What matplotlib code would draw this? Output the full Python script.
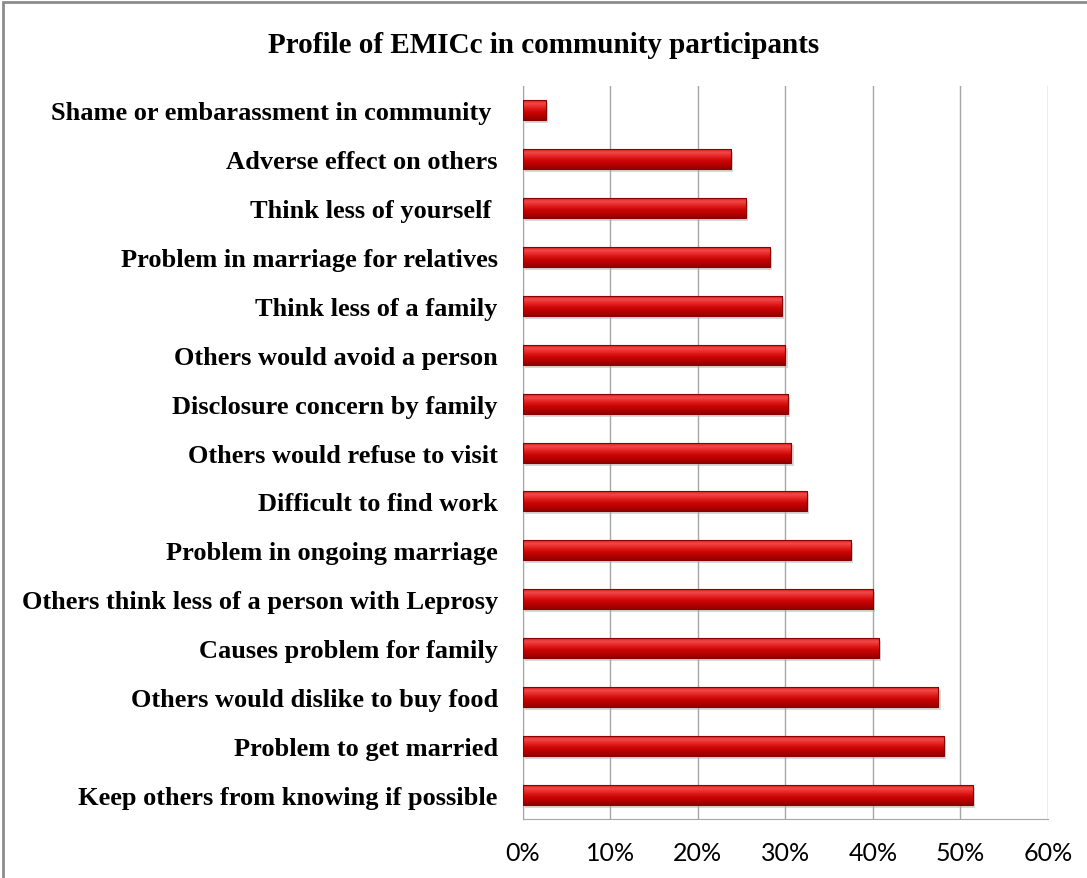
import numpy as np
import matplotlib.pyplot as plt
from matplotlib.patches import Rectangle
from matplotlib.colors import LinearSegmentedColormap
from matplotlib.ticker import PercentFormatter

# categories from top to bottom
labels = [
    "Shame or embarassment in community ",
    "Adverse effect on others",
    "Think less of yourself ",
    "Problem in marriage for relatives",
    "Think less of a family",
    "Others would avoid a person",
    "Disclosure concern by family",
    "Others would refuse to visit",
    "Difficult to find work",
    "Problem in ongoing marriage",
    "Others think less of a person with Leprosy",
    "Causes problem for family",
    "Others would dislike to buy food",
    "Problem to get married",
    "Keep others from knowing if possible",
]
values = [2.6, 23.8, 25.5, 28.2, 29.6, 30.0, 30.3, 30.7, 32.5, 37.5,
          40.0, 40.7, 47.5, 48.1, 51.4]
ticks = [0, 10, 20, 30, 40, 50, 60]

fig = plt.figure(figsize=(10.87, 8.79), dpi=100)
ax = fig.add_axes([0.481, 0.067, 0.483, 0.834])

y = np.arange(len(labels))
bars = ax.barh(y, values, height=0.41, color="#cc0000", edgecolor="none", zorder=3)

# shaded cylinder-like fill for each bar (light on top, dark at the bottom)
cmap = LinearSegmentedColormap.from_list(
    "bar", ["#d01010", "#f24a4a", "#e42222", "#cc0606", "#b80000", "#900000"])
grad = np.linspace(0, 1, 64).reshape(-1, 1)
for b in bars:
    x0, y0, w, h = b.get_x(), b.get_y(), b.get_width(), b.get_height()
    ax.add_patch(Rectangle((x0 + 0.25, y0 + 0.06), w, h, color="#b0b0b0",
                           alpha=0.5, lw=0, zorder=2))
    im = ax.imshow(grad, cmap=cmap, aspect="auto", extent=(x0, x0 + w, y0 + h, y0),
                   origin="upper", zorder=4, interpolation="bicubic")
    im.set_clip_path(b)
    ax.add_patch(Rectangle((x0, y0), w, h, fill=False, ec="#8a0000", lw=0.8, zorder=5))

ax.set_xlim(0, 60)
ax.set_ylim(len(labels) - 0.5, -0.5)
ax.set_xticks(ticks)
ax.xaxis.set_major_formatter(PercentFormatter(decimals=0))
ax.set_yticks(y)
ax.set_yticklabels(labels, fontfamily="Liberation Serif", fontweight="bold", fontsize=19)
ax.tick_params(axis="y", length=0, pad=18)
ax.tick_params(axis="x", length=0, pad=16, labelsize=18)
for t in ax.get_xticklabels():
    t.set_fontfamily("Lato")
ax.grid(axis="x", color="#a6a6a6", lw=1, zorder=0)
for s in ["top", "right"]:
    ax.spines[s].set_visible(False)
for s in ["left", "bottom"]:
    ax.spines[s].set_color("#a6a6a6")
ax.set_axisbelow(True)

fig.text(0.5, 0.948, "Profile of EMICc in community participants", ha="center", va="center",
         fontfamily="Liberation Serif", fontweight="bold", fontsize=21)

# chart frame
fig.patches.append(Rectangle((0.003, -0.05), 1.05, 1.047, transform=fig.transFigure,
                             fill=False, ec="#8c8c8c", lw=2))

fig.savefig("out.png", dpi=100)
